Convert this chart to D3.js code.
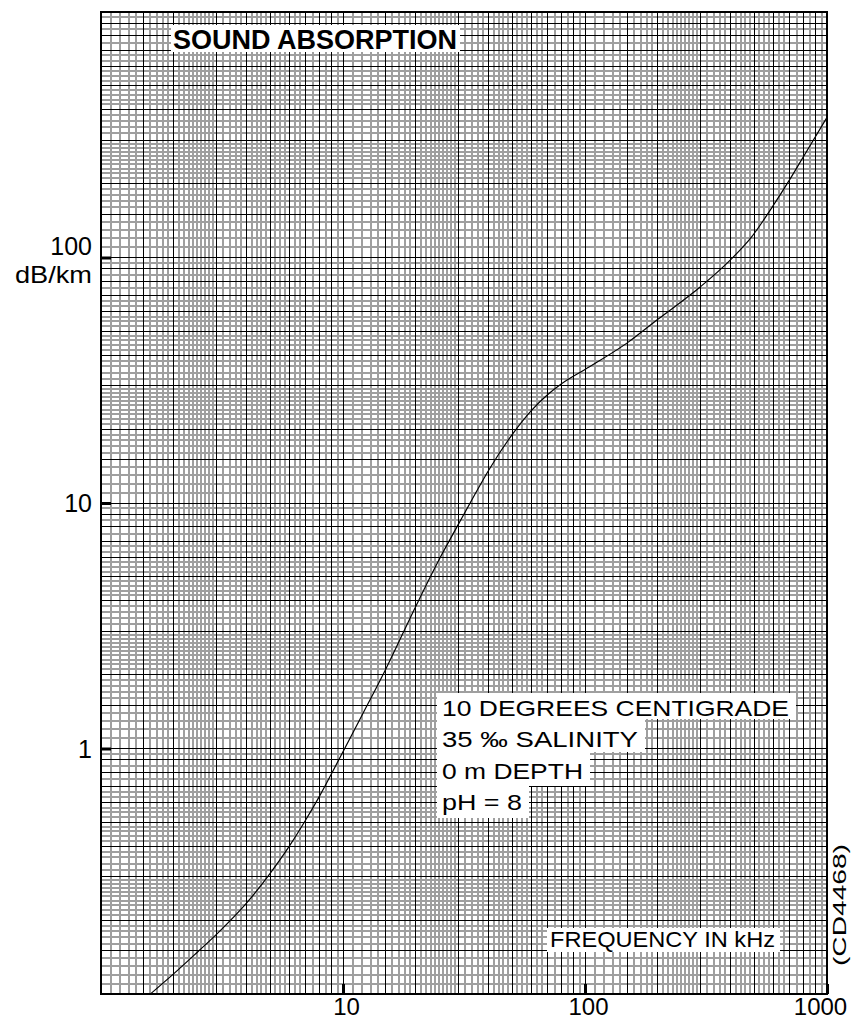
<!DOCTYPE html>
<html>
<head>
<meta charset="utf-8">
<script src="https://cdn.jsdelivr.net/npm/d3@7"></script>
<style>
  html, body { margin: 0; padding: 0; background: #fff; }
  svg { display: block; font-family: "Liberation Sans", Arial, Helvetica, sans-serif; }
</style>
</head>
<body>
<svg id="chart" width="854" height="1021"></svg>
<script>
// Sound absorption in sea water (dB/km) versus frequency (kHz)
const freqKHz =        [1.6, 2.0,   2.5,   3.0,   4.0,   5.0,  6.0,  7.0,  8.0,  10,   12,   15,  20,  25,  30,  35,   40,   50,   60,   70,   80,   100, 150, 200, 300, 400, 490, 600, 700, 800, 1000];
const absorptionDbKm = [0.1, 0.121, 0.148, 0.175, 0.235, 0.31, 0.40, 0.51, 0.64, 0.97, 1.37, 2.1, 3.8, 5.9, 8.2, 10.8, 13.6, 19.0, 23.8, 27.6, 30.6, 35,  45,  56,  76,  98,  122, 163, 207, 258, 372];

const xTickValues = [10, 100, 1000];
const xTickLabels = ["10", "100", "1000"];
const yTickValues = [1, 10, 100];
const yTickLabels = ["1", "10", "100"];

// log-paper rulings within one decade
const gridBold = [1, 1.5, 2, 3, 4, 5, 6, 7, 8, 9];
const gridFine = [1.1, 1.2, 1.3, 1.4, 1.6, 1.7, 1.8, 1.9,
                  2.1, 2.2, 2.3, 2.4, 2.5, 2.6, 2.7, 2.8, 2.9,
                  3.2, 3.4, 3.6, 3.8, 4.2, 4.4, 4.6, 4.8,
                  5.25, 5.5, 5.75, 6.33, 6.67, 7.5, 8.5, 9.5];
const xDecades = [1, 10, 100];
const yDecades = [0.1, 1, 10, 100];

const titleText = "SOUND ABSORPTION";
const unitText = "dB/km";
const xAxisText = "FREQUENCY IN kHz";
const conditionLines = ["10 DEGREES CENTIGRADE", "35 \u2030 SALINITY", "0 m DEPTH", "pH = 8"];
const conditionWidths = [347, 196, 141, 80];
const figureCode = "(CD4468)";

const plotLeft = 101, plotRight = 827, plotTop = 12, plotBottom = 994;

const svg = d3.select("#chart");

const x = d3.scaleLog().domain([1, 1000]).range([plotLeft, plotRight]);
const y = d3.scaleLog().domain([0.1, 1000]).range([plotBottom, plotTop]);

const [xMin, xMax] = x.domain();
const [yMin, yMax] = y.domain();

const xFine = xDecades.flatMap(d => gridFine.map(m => d * m)).filter(v => v > xMin && v < xMax);
const xBold = xDecades.flatMap(d => gridBold.map(m => d * m)).filter(v => v > xMin && v < xMax);
const yFine = yDecades.flatMap(d => gridFine.map(m => d * m)).filter(v => v > yMin && v < yMax);
const yBold = yDecades.flatMap(d => gridBold.map(m => d * m)).filter(v => v > yMin && v < yMax);

const grid = svg.append("g").attr("shape-rendering", "crispEdges");

// fine rulings (grey)
grid.append("g").selectAll("line").data(xFine).join("line")
  .attr("x1", d => x(d)).attr("x2", d => x(d))
  .attr("y1", plotTop).attr("y2", plotBottom)
  .attr("stroke", "#9f9f9f").attr("stroke-width", 2);
grid.append("g").selectAll("line").data(yFine).join("line")
  .attr("x1", plotLeft).attr("x2", plotRight)
  .attr("y1", d => y(d)).attr("y2", d => y(d))
  .attr("stroke", "#9f9f9f").attr("stroke-width", 2);

// main rulings (black)
grid.append("g").selectAll("line").data(xBold).join("line")
  .attr("x1", d => x(d)).attr("x2", d => x(d))
  .attr("y1", plotTop).attr("y2", plotBottom)
  .attr("stroke", "#000").attr("stroke-width", 1);
grid.append("g").selectAll("line").data(yBold).join("line")
  .attr("x1", plotLeft).attr("x2", plotRight)
  .attr("y1", d => y(d)).attr("y2", d => y(d))
  .attr("stroke", "#000").attr("stroke-width", 1);

// frame
svg.append("rect")
  .attr("x", plotLeft).attr("y", plotTop)
  .attr("width", plotRight - plotLeft).attr("height", plotBottom - plotTop)
  .attr("fill", "none").attr("stroke", "#000").attr("stroke-width", 1.5)
  .attr("shape-rendering", "crispEdges");

// axes with short heavy inward ticks
const yAxis = d3.axisLeft(y)
  .tickValues(yTickValues)
  .tickFormat((d, i) => yTickLabels[i])
  .tickSizeInner(-10).tickSizeOuter(0).tickPadding(9);
const gy = svg.append("g").attr("transform", `translate(${plotLeft},0)`).call(yAxis);
gy.select(".domain").remove();
gy.selectAll(".tick line").attr("stroke", "#000").attr("stroke-width", 3);
gy.selectAll(".tick text")
  .attr("font-size", 25).attr("fill", "#000")
  .attr("font-family", "Liberation Sans, Arial, sans-serif")
  .attr("dy", d => d === 100 ? "-0.13em" : "0.35em");

const xAxis = d3.axisBottom(x)
  .tickValues(xTickValues)
  .tickFormat((d, i) => xTickLabels[i])
  .tickSizeInner(-10).tickSizeOuter(0).tickPadding(4);
const gx = svg.append("g").attr("transform", `translate(0,${plotBottom})`).call(xAxis);
gx.select(".domain").remove();
gx.selectAll(".tick line").attr("stroke", "#000").attr("stroke-width", 3);
gx.selectAll(".tick text")
  .attr("font-size", 24).attr("fill", "#000")
  .attr("font-family", "Liberation Sans, Arial, sans-serif")
  .attr("dy", "0.72em")
  .attr("dx", d => d === 1000 ? -7 : 3);

// unit label under the 100 tick
svg.append("text")
  .attr("x", 92).attr("y", 283)
  .attr("text-anchor", "end")
  .attr("font-size", 24)
  .attr("textLength", 77).attr("lengthAdjust", "spacingAndGlyphs")
  .text(unitText);

// absorption curve
const line = d3.line()
  .x((d, i) => x(freqKHz[i]))
  .y(d => y(d))
  .curve(d3.curveMonotoneX);
svg.append("path")
  .datum(absorptionDbKm)
  .attr("d", line)
  .attr("fill", "none")
  .attr("stroke", "#000")
  .attr("stroke-width", 1.2);

// labels on white patches
function boxedText(g, tx, ty, str, opts) {
  const t = g.append("text")
    .attr("x", tx).attr("y", ty)
    .attr("font-size", opts.size)
    .attr("font-weight", opts.weight || "normal")
    .text(str);
  if (opts.length) t.attr("textLength", opts.length).attr("lengthAdjust", "spacingAndGlyphs");
  return t;
}

// title
const titleG = svg.append("g");
titleG.append("rect").attr("x", 171).attr("y", 25).attr("width", 289).attr("height", 27).attr("fill", "#fff");
boxedText(titleG, 173, 48.5, titleText, { size: 27, weight: "bold" });

// axis caption
const capG = svg.append("g");
capG.append("rect").attr("x", 547).attr("y", 928).attr("width", 233).attr("height", 24).attr("fill", "#fff");
boxedText(capG, 550, 947, xAxisText, { size: 22, length: 225 });

// measurement conditions
const condG = svg.append("g");
const condBase = [716, 747, 779, 810];
const condTop = [693, 719, 752, 786, 818];
conditionLines.forEach((s, i) => {
  condG.append("rect")
    .attr("x", 437).attr("y", condTop[i])
    .attr("width", conditionWidths[i] + 12)
    .attr("height", condTop[i + 1] - condTop[i])
    .attr("fill", "#fff");
});
conditionLines.forEach((s, i) => {
  boxedText(condG, 442, condBase[i], s, { size: 22, length: conditionWidths[i] });
});

// figure code, reading upward along the right edge
svg.append("text")
  .attr("transform", "translate(846,905) rotate(-90)")
  .attr("text-anchor", "middle")
  .attr("font-size", 19)
  .attr("textLength", 122).attr("lengthAdjust", "spacingAndGlyphs")
  .text(figureCode);
</script>
</body>
</html>
